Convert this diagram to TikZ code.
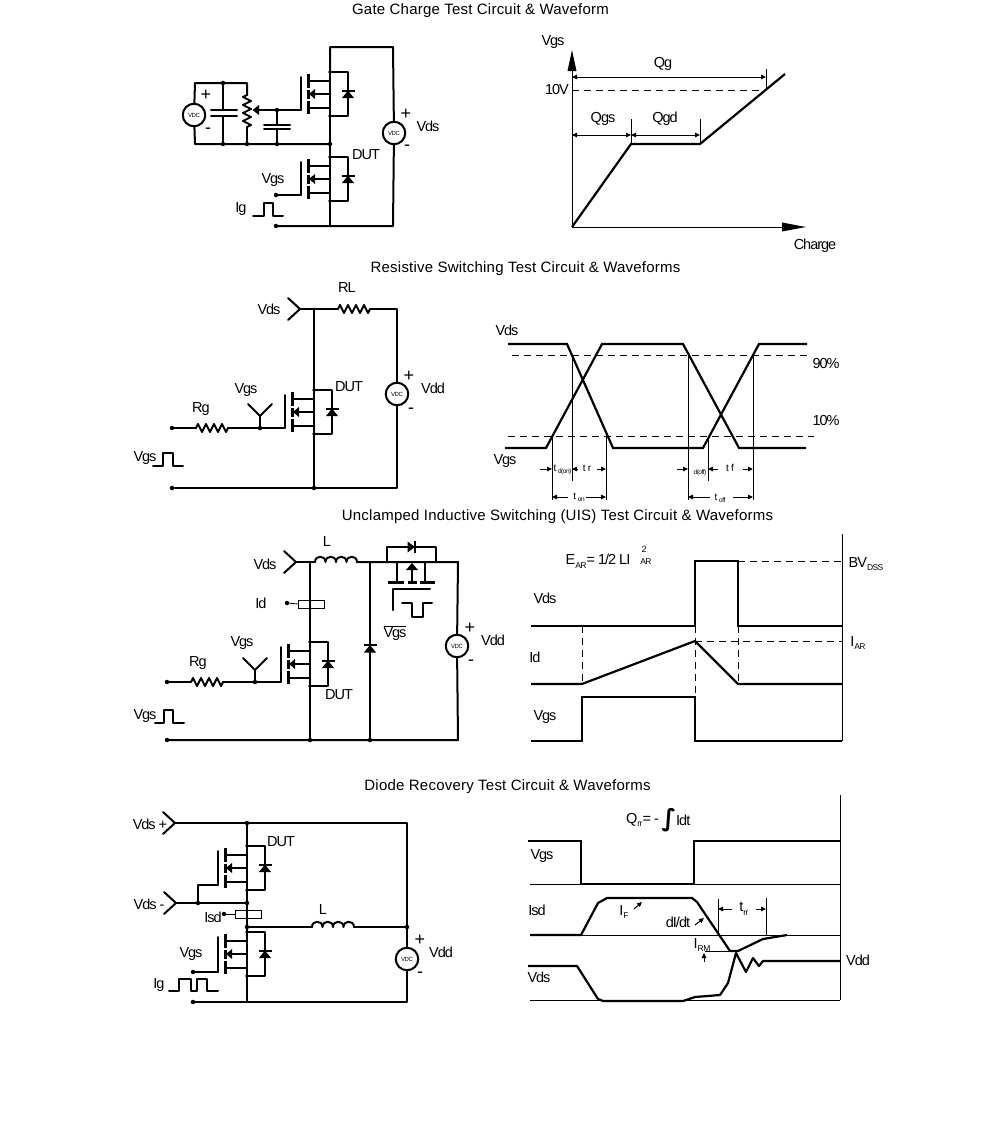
\documentclass[tikz,border=0pt]{standalone}
\usepackage{fontspec}
\setmainfont{Liberation Sans}[LetterSpace=-7]
\newfontfamily\titlefont{Liberation Sans}[LetterSpace=1.5]
\newfontfamily\intfont{DejaVu Sans}[BoldFont=DejaVu Sans Bold]
\usetikzlibrary{arrows.meta}
\tikzset{
  wire/.style={line width=2pt,line cap=round,line join=round},
  wave/.style={line width=2.2pt,line join=miter},
  thin line/.style={line width=1pt},
  dashline/.style={line width=1pt,dash pattern=on 7pt off 5pt},
  bar/.style={line width=3pt},
  dimarrow/.style={line width=1pt,-{Triangle[length=5pt,width=4.5pt]}},
  txt/.style={inner sep=0pt,font=\fontsize{14.5}{14.5}\selectfont},
  ttl/.style={inner sep=0pt,font=\titlefont\fontsize{15}{15}\selectfont},
  plus/.style={inner sep=0pt,font=\fontsize{18}{18}\selectfont},
  small/.style={inner sep=0pt,font=\fontsize{10}{10}\selectfont},
  vdcnode/.style={circle,draw,line width=2pt,fill=white,minimum size=22.5pt,inner sep=0pt,font=\fontsize{6}{6}\selectfont},
  dotnode/.style={circle,fill,inner sep=0pt,minimum size=4.5pt},
  jdot/.style={circle,fill,inner sep=0pt,minimum size=3.6pt},
}
\newcommand\sbs[1]{\raisebox{-3.5pt}{\fontsize{8.5}{9}\selectfont #1}}
\newcommand\ssb[1]{\raisebox{-2pt}{\fontsize{6.5}{7}\selectfont #1}}
\newcommand\lab[3]{\node[txt] (#1) at (#2) {#3};}
\newcommand\dotn[2]{\node[dotnode] (#1) at (#2) {};}
\newcommand\vdcn[2]{\node[vdcnode] (#1) at (#2) {VDC};}
% diode pointing up, centred at #1
\newcommand\diodeu[1]{\begin{scope}[shift={(#1)}]
  \fill (-6,4.5)--(6,4.5)--(0,-3)--cycle;
  \draw[line width=2pt] (-6.5,-3)--(6.5,-3);
\end{scope}}
% MOSFET: [gate y offset], name, column x, top junction y
\newcommand\mosfet[4][38]{\begin{scope}[shift={(#3,#4)}]
  \coordinate (#2-t) at (0,0);
  \coordinate (#2-b) at (0,44);
  \coordinate (#2-g) at (-29,#1);
  \draw[wire] (0,0)--(18,0)--(18,44)--(0,44)--cycle;
  \draw[wire] (-22,9)--(0,9) (-15,22)--(0,22) (-22,36)--(0,36);
  \draw[bar] (-22,1.5)--(-22,15.5) (-22,17.5)--(-22,26.5) (-22,28.5)--(-22,42);
  \draw[wire] (-29,5)--(-29,#1);
  \fill (-21,22)--(-15,17)--(-15,27)--cycle;
  \node[jdot] (#2-jt) at (0,0) {};
  \node[jdot] (#2-jb) at (0,44) {};
  \diodeu{18,21.5}
\end{scope}}
\newcommand\resh[2]{\begin{scope}[shift={(#1,#2)}]
  \draw[wire] (0,0)--(2,-4)--(6,4)--(10,-4)--(14,4)--(18,-4)--(22,4)--(26,-4)--(30,4)--(32,0);
\end{scope}}
\newcommand\resv[2]{\begin{scope}[shift={(#1,#2)}]
  \draw[wire] (0,0)--(-4,2)--(4,6)--(-4,10)--(4,14)--(-4,18)--(4,22)--(-4,26)--(4,30)--(0,32);
\end{scope}}
\newcommand\indh[2]{\begin{scope}[shift={(#1,#2)}]
  \draw[wire] (0,0) .. controls (0,-7) and (10.5,-7) .. (10.5,0)
   .. controls (10.5,-7) and (21,-7) .. (21,0)
   .. controls (21,-7) and (31.5,-7) .. (31.5,0)
   .. controls (31.5,-7) and (42,-7) .. (42,0);
\end{scope}}
\newcommand\yterm[4]{% name, tip x, tip y, right(1)/up(0)
  \coordinate (#1) at (#2,#3);
  \ifnum#4=0
    \draw[wire] (#2-12,#3-12)--(#2,#3)--(#2+12,#3-12);
  \else
    \draw[wire] (#2-12,#3-11)--(#2,#3)--(#2-12,#3+11);
  \fi}
\begin{document}
\begin{tikzpicture}[x=1pt,y=-1pt]
\fill[white] (0,0) rectangle (991,1138);
\useasboundingbox (0,0) rectangle (991,1138);
% ---------- titles
\node[ttl] (t1) at (480.5,10.5) {Gate Charge Test Circuit \& Waveform};
\node[ttl] (t2) at (525.5,268.5) {Resistive Switching Test Circuit \& Waveforms};
\node[ttl] (t3) at (557.5,516.5) {Unclamped Inductive Switching (UIS) Test Circuit \& Waveforms};
\node[ttl] (t4) at (507.5,786.5) {Diode Recovery Test Circuit \& Waveforms};
% ---------- circuit 1
\mosfet{ma}{330}{72}
\mosfet{mb}{330}{157}
\vdcn{va}{194,115}
\vdcn{vb}{394,133}
\dotn{a1}{223,83}\dotn{a2}{223,144}\dotn{a3}{247,144}\dotn{a4}{277,144}\dotn{a5}{330,144}
\dotn{a6}{276,226}\dotn{a7}{276,195}\dotn{a8}{277,110}
\draw[wire] (ma-t)--(330,47)--(393,47)--(vb);
\draw[wire] (vb)--(393,226)--(a6);
\draw[wire] (ma-b)--(a5)--(mb-t);
\draw[wire] (mb-b)--(330,226);
\draw[wire] (va)--(195,83)--(a1)--(247,83)--(247,95);
\draw[wire] (va)--(195,144)--(a2)--(a3)--(a4)--(a5);
\resv{247}{95}
\draw[wire] (247,127)--(a3);
\draw[wire] (a1)--(223,110) (223,116)--(a2);
\draw[wire] (211,110)--(237,110) (211,116)--(237,116);
\draw[wire] (ma-g)--(a8)--(258,110);
\fill (252.5,110)--(259,105)--(259,115)--cycle;
\draw[wire] (a8)--(277,125) (277,129)--(a4);
\draw[wire] (264,125)--(290,125) (264,129)--(290,129);
\draw[wire] (mb-g)--(a7);
\draw[wire] (253,216)--(264,216)--(264,203)--(273,203)--(273,216)--(283,216);
\node[plus] (pa) at (206,95) {+};
\node[plus] (na) at (208,131) {-};
\node[plus] (pb) at (406,114) {+};
\node[plus] (nb) at (407,148) {-};
\lab{la}{428,126}{Vds}\lab{lb}{366,155}{DUT}\lab{lc}{273,180}{Vgs}\lab{ld}{241,209}{Ig}
% ---------- chart 1
\draw[thin line] (572,227)--(572,60);
\draw[thin line] (572,227)--(790,227);
\fill (572,50)--(567.5,71)--(576.5,71)--cycle;
\fill (806,227)--(782,222.5)--(782,231.5)--cycle;
\draw[wave] (572,227)--(631,144)--(700,144)--(785,74);
\draw[dashline] (572,90)--(765,90);
\draw[thin line] (766,69)--(766,90) (631,119)--(631,144) (700,119)--(700,144);
\draw[dimarrow] (668,77)--(766,77);\draw[dimarrow] (668,77)--(572,77);
\draw[dimarrow] (601,135)--(572,135);\draw[dimarrow] (601,135)--(631,135);
\draw[dimarrow] (665,135)--(631,135);\draw[dimarrow] (665,135)--(700,135);
\lab{lv1}{553,42}{Vgs}\lab{lv2}{557,90}{10V}\lab{lv3}{663,64}{Qg}\lab{lv4}{603,119}{Qgs}\lab{lv5}{665,119}{Qgd}\lab{lv6}{815,246}{Charge}
% ---------- circuit 2
\mosfet{mc}{314}{390}
\yterm{yb}{300}{309}{1}
\yterm{yc}{260}{416}{0}
\vdcn{vc}{397,394}
\dotn{b1}{314,488}\dotn{b2}{172,488}\dotn{b3}{172,428}\dotn{b4}{260,428}
\draw[wire] (yb)--(338,309);
\resh{338}{309}
\draw[wire] (370,309)--(397,309)--(vc);
\draw[wire] (314,309)--(mc-t);
\draw[wire] (mc-b)--(b1);
\draw[wire] (vc)--(397,488)--(b1)--(b2);
\draw[wire] (b3)--(196,428);
\resh{196}{428}
\draw[wire] (228,428)--(b4)--(mc-g);
\draw[wire] (yc)--(b4);
\draw[wire] (153,466)--(163,466)--(163,453)--(173,453)--(173,466)--(183,466);
\lab{lg}{347,288}{RL}\lab{lh}{269,309}{Vds}\lab{li}{246,390}{Vgs}\lab{lj}{201,409}{Rg}\lab{lk}{349,387}{DUT}\lab{ll}{145,458}{Vgs}\lab{lm}{433,388}{Vdd}
\node[plus] (pc) at (409,376) {+};
\node[plus] (nc) at (411,411) {-};
% ---------- chart 2
\draw[wave] (508,344)--(567,344)--(613,448)--(703,448)--(759,344)--(807,344);
\draw[wave] (505,448)--(546,448)--(602,344)--(683,344)--(739,448)--(806,448);
\draw[dashline] (512,355)--(808,355);
\draw[dashline] (508,436)--(814,436);
\draw[thin line] (552,436)--(552,500) (572,355)--(572,481) (606,436)--(606,500) (688,355)--(688,500) (708,436)--(708,481) (753,355)--(753,500);
\draw[dimarrow] (540,469)--(552,469);\draw[dimarrow] (578,469)--(572,469);\draw[dimarrow] (597,469)--(606,469);
\draw[dimarrow] (677,469)--(688,469);\draw[dimarrow] (718,469)--(708,469);\draw[dimarrow] (743,469)--(753,469);
\draw[dimarrow] (568,497)--(552,497);\draw[dimarrow] (586,497)--(606,497);
\draw[dimarrow] (710,497)--(688,497);\draw[dimarrow] (733,497)--(753,497);
\node[small] (dn1) at (562.5,470) {t\,\ssb{d(on)}};
\node[small] (dn2) at (587,468) {t r};
\node[small] (dn3) at (579,497) {t\,\ssb{on}};
\node[small] (dn4) at (700,473) {\ssb{d(off)}};
\node[small] (dn5) at (730,468) {t f};
\node[small] (dn6) at (720,498) {t\,\ssb{off}};
\lab{ln}{507,330}{Vds}\lab{lo}{505,461}{Vgs}\lab{lp}{826,364}{90\%}\lab{lq}{826,421}{10\%}
% ---------- circuit 3
\mosfet[40]{md}{310}{642}
\yterm{yd}{296}{562}{1}
\yterm{ye}{255}{670}{0}
\vdcn{vd}{457,646}
\dotn{c1}{310,740}\dotn{c2}{370,740}\dotn{c3}{167,740}\dotn{c4}{167,682}\dotn{c5}{255,682}\dotn{c6}{287,603}
\draw[wire] (yd)--(315,562);
\indh{315}{562}
\draw[wire] (357,562)--(458,562)--(vd);
\draw[wire] (310,562)--(md-t);
\draw[wire] (md-b)--(c1);
\draw[wire] (vd)--(458,740)--(c2)--(c1)--(c3);
\draw[wire] (370,562)--(c2);
\diodeu{370,648}
\draw[wire] (c4)--(191,682);
\resh{191}{682}
\draw[wire] (223,682)--(c5)--(md-g);
\draw[wire] (ye)--(c5);
% current sense
\draw[line width=0.8pt] (c6)--(298,604);
\draw[line width=0.9pt,fill=white] (298,600) rectangle (324,608);
\draw[wire] (310,600)--(310,608);
% high-side switch
\draw[wire] (387,562)--(387,547)--(436,547)--(436,562);
\fill (407.5,541.5)--(407.5,552.5)--(415,547)--cycle;
\draw[line width=2pt] (415,541)--(415,553);
\draw[wire] (397,562)--(397,582) (425,562)--(425,582) (412,570)--(412,582);
\fill (412,563)--(406,570)--(418,570)--cycle;
\draw[bar] (388,582)--(404,582) (408,582)--(417,582) (420,582)--(435,582);
\draw[wire] (430,589)--(393,589)--(393,610);
\draw[wire] (402,603)--(412,603)--(412,617)--(423,617)--(423,603)--(432,603);
\node[txt] (vgsbar) at (395,633) {$\overline{\hbox{Vgs}}$};
\draw[wire] (155,723)--(164,723)--(164,710)--(173,710)--(173,723)--(184,723);
\lab{lr}{265,564}{Vds}\lab{ls}{327,542}{L}\lab{lt}{242,643}{Vgs}\lab{lu}{198,663}{Rg}\lab{lv}{339,695}{DUT}\lab{lw}{145,716}{Vgs}\lab{lx}{493,640}{Vdd}\lab{ly}{261,603}{Id}
\node[plus] (pd) at (470,628) {+};
\node[plus] (nd) at (471,663) {-};
% ---------- chart 3
\draw[thin line] (842,534)--(842,741);
\draw[wave] (531,626)--(695,626)--(695,561)--(738,561)--(738,626)--(842,626);
\draw[wave] (531,684)--(582,684)--(695,641)--(738,684)--(842,684);
\draw[wave] (531,741)--(582,741)--(582,697)--(695,697)--(695,741)--(842,741);
\draw[dashline] (738,561)--(842,561);
\draw[dashline] (695,641)--(842,641);
\draw[dashline] (582,626)--(582,684) (695,626)--(695,697) (738,626)--(738,684);
\lab{lz}{598,561}{E\sbs{AR}= 1/2 LI}
\node[inner sep=0pt,font=\fontsize{9}{9}\selectfont] (as1) at (644,549) {2};
\node[inner sep=0pt,font=\fontsize{8.5}{9}\selectfont] (as2) at (646,562) {AR};
\lab{lza}{866,564}{BV\sbs{DSS}}\lab{lzb}{858,643}{I\sbs{AR}}\lab{lzc}{545,598}{Vds}\lab{lzd}{535,657}{Id}\lab{lze}{545,717}{Vgs}
% ---------- circuit 4
\mosfet[39]{me}{247}{846}
\mosfet[40]{mf}{247}{932}
\yterm{yf}{175}{823}{1}
\yterm{yg}{176}{903}{1}
\vdcn{ve}{407,959}
\dotn{e1}{247,823}\dotn{e2}{198,903}\dotn{e3}{247,903}\dotn{e4}{247,927}\dotn{e5}{407,927}\dotn{e6}{193,972}\dotn{e7}{193,1002}\dotn{e8}{224,914}
\draw[wire] (yf)--(e1)--(407,823)--(e5)--(ve);
\draw[wire] (e1)--(me-t);
\draw[wire] (me-b)--(e3)--(e4)--(mf-t);
\draw[wire] (mf-b)--(247,1002);
\draw[wire] (ve)--(407,1002)--(e7);
\draw[wire] (yg)--(e2)--(e3);
\draw[wire] (e2)--(198,885)--(me-g);
\draw[wire] (mf-g)--(e6);
\draw[wire] (e4)--(312,927);
\indh{312}{927}
\draw[wire] (354,927)--(e5);
\draw[line width=0.8pt] (e8)--(235,914);
\draw[line width=0.9pt,fill=white] (235,910) rectangle (261,918);
\draw[wire] (247,910)--(247,918);
\draw[wire] (169,991)--(179,991)--(179,979)--(191,979)--(191,991)--(197,991)--(197,979)--(207,979)--(207,991)--(218,991);
\lab{ma1}{281,842}{DUT}\lab{ma2}{150,824}{Vds +}\lab{ma3}{149,904}{Vds -}\lab{ma4}{323,909}{L}\lab{ma5}{191,954}{Vgs}\lab{ma6}{159,985}{Ig}\lab{ma7}{441,952}{Vdd}\lab{ma8}{213,917}{Isd}
\node[plus] (pe) at (420,940) {+};
\node[plus] (ne) at (420,975) {-};
% ---------- chart 4
\draw[thin line] (840,795)--(840,1000);
\draw[thin line] (530,884)--(840,884) (530,935)--(840,935) (530,1000)--(840,1000) (705,951)--(730,951);
\draw[wave] (528,841)--(581,841)--(581,884)--(694,884)--(694,841)--(840,841);
\draw[wave,line join=round] (530,935)--(581,935)--(598,903)--(607,898)--(692,898)--(697,902)--(730,951)--(738,951)--(763,939)--(787,935);
\draw[wave,line join=round] (528,966)--(577,966)--(598,999)--(603,1001)--(683,1001)--(695,997)--(720,995)--(728,983)--(736,953)--(746,972)--(753,958)--(759,966)--(763,961)--(840,961);
\draw[thin line] (718,899)--(718,935) (766,898)--(766,935);
\draw[dimarrow] (732,909)--(718,909);\draw[dimarrow] (756,909)--(766,909);
\draw[dimarrow] (634,909)--(642,902);\draw[dimarrow] (695,925)--(704,918);
\draw[dimarrow] (704,962)--(704,953);
\lab{mb1}{744,909}{t\sbs{rr}}\lab{mb2}{624,912}{I\sbs{F}}\lab{mb3}{678,922}{dI/dt}\lab{mb4}{702,945}{I\sbs{RM}}
\lab{mb5}{542,856}{Vgs}\lab{mb6}{537,910}{Isd}\lab{mb7}{539,977}{Vds}\lab{mb8}{858,960}{Vdd}
\node[txt,anchor=west] (mb9) at (626,820) {Q\sbs{rr}= -};
\node[inner sep=0pt,font=\intfont\bfseries\fontsize{24}{24}\selectfont] (mb10) at (669,820) {∫};
\node[txt,anchor=west] (mb11) at (676,820) {Idt};
\end{tikzpicture}
\end{document}
